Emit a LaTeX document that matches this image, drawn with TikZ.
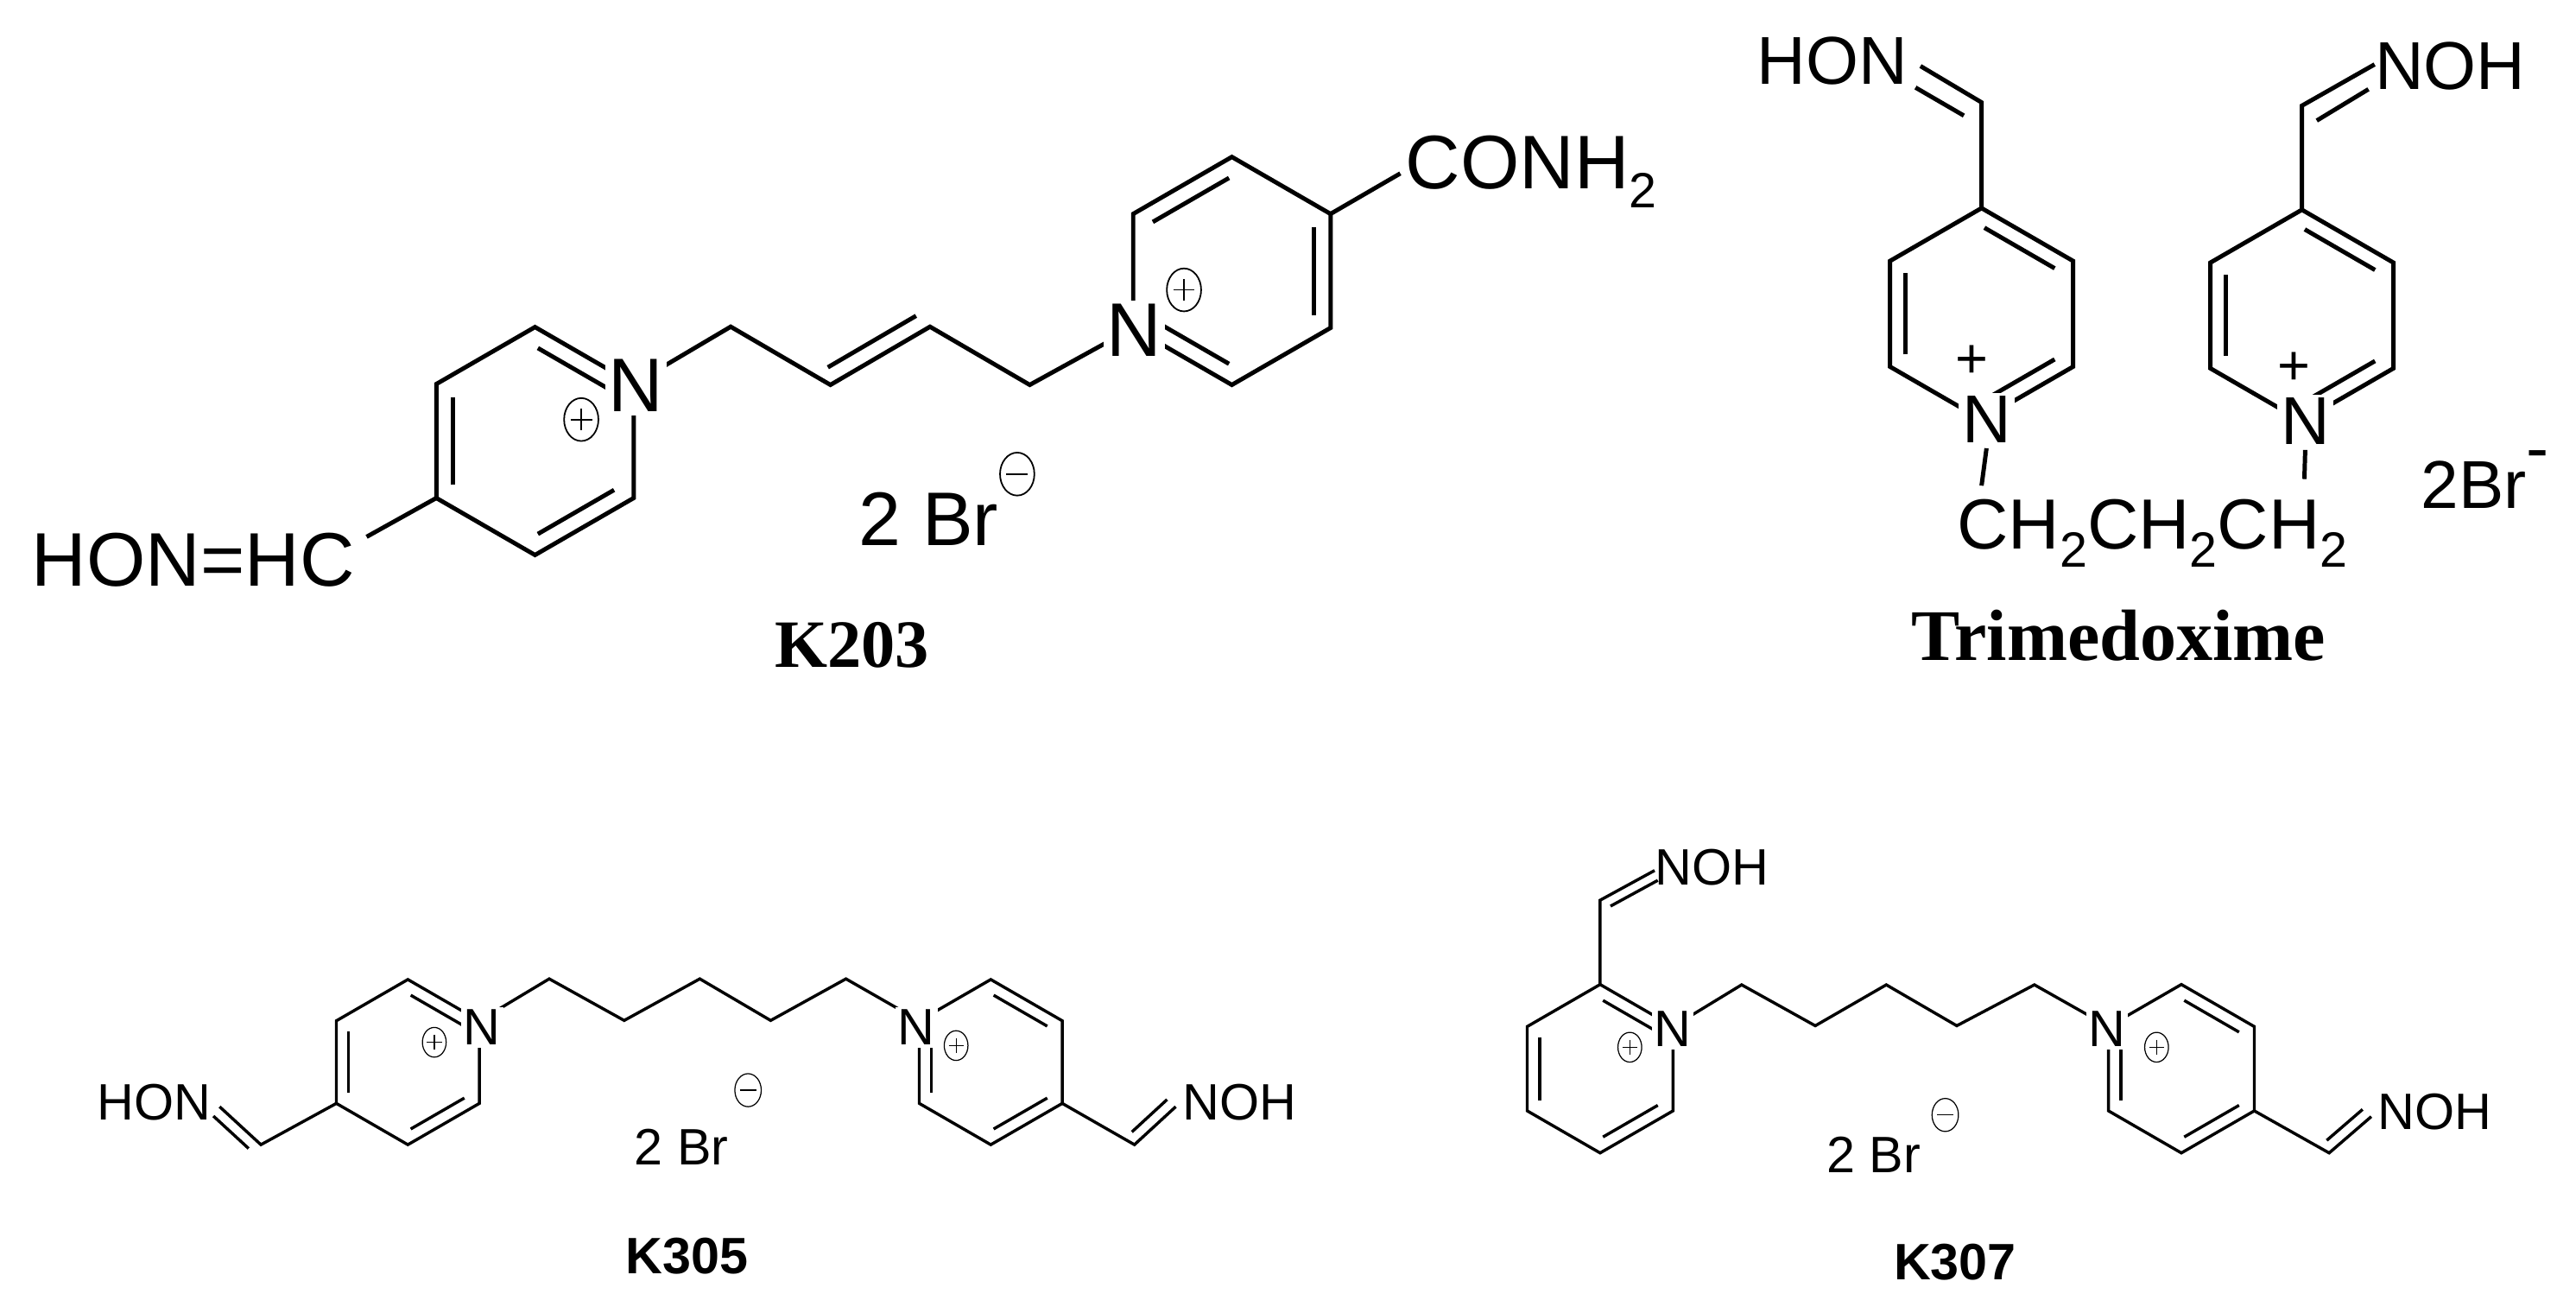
\documentclass[tikz,border=0pt]{standalone}
\usepackage{fontspec}
\setmainfont{Liberation Sans}
\newfontfamily\serifb{Liberation Serif}
\usetikzlibrary{calc}
\newcommand\hexring[4]{%
 \coordinate (#1-1) at (#2,#3-#4);
 \coordinate (#1-2) at (#2+0.866*#4,#3-0.5*#4);
 \coordinate (#1-3) at (#2+0.866*#4,#3+0.5*#4);
 \coordinate (#1-4) at (#2,#3+#4);
 \coordinate (#1-5) at (#2-0.866*#4,#3+0.5*#4);
 \coordinate (#1-6) at (#2-0.866*#4,#3-0.5*#4);
 \coordinate (#1-c) at (#2,#3);
 \draw (#1-1)--(#1-2)--(#1-3)--(#1-4)--(#1-5)--(#1-6)--cycle;}
\newcommand\dbl[3]{\draw[shorten <=2pt,shorten >=2pt] ($(#1)!0.17!(#3)$) -- ($(#2)!0.17!(#3)$);}
\newcommand\chg[4]{% x,y,r,plus?
 \draw[line width=0.6*\pgflinewidth] (#1,#2) circle[x radius=0.8*#3,y radius=#3];
 \draw[line width=0.6*\pgflinewidth] (#1-0.5*#3,#2)--(#1+0.5*#3,#2);
 \ifx#4p\draw[line width=0.6*\pgflinewidth] (#1,#2-0.5*#3)--(#1,#2+0.5*#3);\fi}
\begin{document}
\begin{tikzpicture}[x=1pt,y=-1pt,line join=miter,
  big/.style={font=\fontsize{46}{50}\selectfont,inner sep=0pt},
  mid/.style={font=\fontsize{41}{45}\selectfont,inner sep=0pt},
  sml/.style={font=\fontsize{31}{34}\selectfont,inner sep=0pt},
  atomb/.style={big,fill=white,inner sep=2pt},
  atomm/.style={mid,fill=white,inner sep=2pt},
  atoms/.style={sml,fill=white,inner sep=1.5pt},
  top/.style={line width=2.6pt},
  bot/.style={line width=1.8pt}]
\useasboundingbox (0,0) rectangle (1560,794.4);
% ================= K203
\begin{scope}[top]
\hexring{a}{324}{267}{69}
\dbl{a-1}{a-2}{a-c}\dbl{a-5}{a-6}{a-c}\dbl{a-3}{a-4}{a-c}
\hexring{b}{746}{164}{69}
\dbl{b-1}{b-6}{b-c}\dbl{b-2}{b-3}{b-c}\dbl{b-4}{b-5}{b-c}
\coordinate (ch1) at (442.5,197.8);
\coordinate (ch2) at (502.9,233);
\coordinate (ch3) at (563.2,197.8);
\coordinate (ch4) at (623.6,233);
\draw (a-2)--(ch1)--(ch2)--(ch3)--(ch4)--(b-5);
\draw[shorten <=4pt,shorten >=4pt] ($(ch2)+(-5,-8.6)$)--($(ch3)+(-5,-8.6)$);
\coordinate (hc) at (222,325);
\draw (a-5)--(hc);
\coordinate (co) at (848,105);
\draw (b-2)--(co);
\node[atomb] (n1) at (385,233.5) {N};
\node[atomb] (n2) at (687,200) {N};
\chg{352}{254}{13}{p}
\chg{717}{175.5}{13}{p}
\chg{616}{287}{13}{m}
\end{scope}
\node[big,anchor=base west] (t1) at (19,355) {HON=HC};
\node[big,anchor=base west] (t2) at (851,114.4) {CONH\raisebox{-0.25em}{\fontsize{30}{32}\selectfont 2}};
\node[big,anchor=base west] (t3) at (520,330) {2 Br};
\node[font=\serifb\bfseries\fontsize{41}{45}\selectfont,anchor=base,inner sep=0pt] (k1) at (516,404) {K203};
% ================= Trimedoxime
\begin{scope}[top]
\hexring{c}{1200}{190}{64}
\dbl{c-1}{c-2}{c-c}\dbl{c-5}{c-6}{c-c}\dbl{c-3}{c-4}{c-c}
\hexring{d}{1394}{191}{64}
\dbl{d-1}{d-2}{d-c}\dbl{d-5}{d-6}{d-c}\dbl{d-3}{d-4}{d-c}
\coordinate (c7) at (1200,62);
\coordinate (c8) at (1163,40);
\draw (c-1)--(c7)--(c8);
\draw[shorten <=2pt] (1191,71)--(1160,53);
\coordinate (d7) at (1394,64);
\coordinate (d8) at (1438,39);
\draw (d-1)--(d7)--(d8);
\draw[shorten >=2pt] (1403,73)--(1436,53);
\node[atomm] (n3) at (1203,254) {N};
\node[atomm] (n4) at (1396,255) {N};
\coordinate (e1) at (1200,294);
\coordinate (e2) at (1395.5,290);
\draw (n3.south) -- (e1);
\draw (n4.south) -- (e2);
\end{scope}
\node[mid,font=\fontsize{34}{36}\selectfont] (p3) at (1194,219) {+};
\node[mid,font=\fontsize{34}{36}\selectfont] (p4) at (1389,223) {+};
\node[mid,anchor=base west] (t4) at (1064,51) {HON};
\node[mid,anchor=base west] (t5) at (1438,54) {NOH};
\node[mid,anchor=base west,font=\fontsize{43}{45}\selectfont] (t6) at (1185,332.6) {CH\raisebox{-0.25em}{\fontsize{30}{32}\selectfont 2}CH\raisebox{-0.25em}{\fontsize{30}{32}\selectfont 2}CH\raisebox{-0.25em}{\fontsize{30}{32}\selectfont 2}};
\node[mid,anchor=base west] (t7) at (1466,308) {2Br\raisebox{0.55em}{-}};
\node[font=\serifb\bfseries\fontsize{44}{48}\selectfont,anchor=base,inner sep=0pt] (k2) at (1283,400) {Trimedoxime};
% ================= K305
\begin{scope}[bot]
\hexring{e}{247}{643}{50}
\dbl{e-1}{e-2}{e-c}\dbl{e-5}{e-6}{e-c}\dbl{e-3}{e-4}{e-c}
\hexring{f}{600}{643}{50}
\dbl{f-1}{f-2}{f-c}\dbl{f-3}{f-4}{f-c}\dbl{f-5}{f-6}{f-c}
\coordinate (g1) at (332.6,592.6);
\coordinate (g2) at (378,617.8);
\coordinate (g3) at (423.8,592.6);
\coordinate (g4) at (466.7,617.8);
\coordinate (g5) at (512.3,592.6);
\draw (e-2)--(g1)--(g2)--(g3)--(g4)--(g5)--(f-6);
\coordinate (h1) at (158,693);
\coordinate (h2) at (133,670);
\draw (e-5)--(h1)--(h2);
\draw[shorten <=4pt,shorten >=1pt] ($(h1)+(-4.5,5)$)--($(h2)+(-4.5,5)$);
\coordinate (h3) at (687,693);
\coordinate (h4) at (712,670);
\draw (f-3)--(h3)--(h4);
\draw[shorten <=4pt,shorten >=1pt] ($(h3)+(-4.5,-5)$)--($(h4)+(-4.5,-5)$);
\node[atoms] (n5) at (292,622) {N};
\node[atoms] (n6) at (555,622) {N};
\chg{263}{631}{9}{p}
\chg{579}{633}{9}{p}
\chg{453}{660}{10}{m}
\end{scope}
\node[sml,anchor=base east] (t8) at (128,678) {HON};
\node[sml,anchor=base west] (t9) at (716,678) {NOH};
\node[sml,anchor=base west] (t10) at (384,705) {2 Br};
\node[sml,font=\bfseries\fontsize{31}{34}\selectfont,anchor=base] (k3) at (416,771) {K305};
% ================= K307
\begin{scope}[bot]
\hexring{i}{969}{647}{51}
\dbl{i-1}{i-2}{i-c}\dbl{i-5}{i-6}{i-c}\dbl{i-3}{i-4}{i-c}
\hexring{j}{1321}{647}{51}
\dbl{j-1}{j-2}{j-c}\dbl{j-3}{j-4}{j-c}\dbl{j-5}{j-6}{j-c}
\coordinate (m1) at (1054.7,596.2);
\coordinate (m2) at (1099.3,621);
\coordinate (m3) at (1142.3,596.2);
\coordinate (m4) at (1185,621);
\coordinate (m5) at (1232,596.2);
\draw (i-2)--(m1)--(m2)--(m3)--(m4)--(m5)--(j-6);
\coordinate (q1) at (969,545);
\coordinate (q2) at (1002,527);
\draw (i-1)--(q1)--(q2);
\draw[shorten <=4pt,shorten >=1pt] ($(q1)+(2.8,5.5)$)--($(q2)+(2.8,5.5)$);
\coordinate (q3) at (1410.5,698);
\coordinate (q4) at (1436,676);
\draw (j-3)--(q3)--(q4);
\draw[shorten <=4pt,shorten >=1pt] ($(q3)+(-4.5,-5)$)--($(q4)+(-4.5,-5)$);
\node[atoms] (n7) at (1013,623) {N};
\node[atoms] (n8) at (1276,623) {N};
\chg{987}{634}{9}{p}
\chg{1306}{634}{9}{p}
\chg{1178}{675}{10}{m}
\end{scope}
\node[sml,anchor=base west] (t11) at (1002,536) {NOH};
\node[sml,anchor=base west] (t12) at (1440,684) {NOH};
\node[sml,anchor=base west] (t13) at (1106,710) {2 Br};
\node[sml,font=\bfseries\fontsize{31}{34}\selectfont,anchor=base] (k4) at (1184,775) {K307};
\end{tikzpicture}
\end{document}
